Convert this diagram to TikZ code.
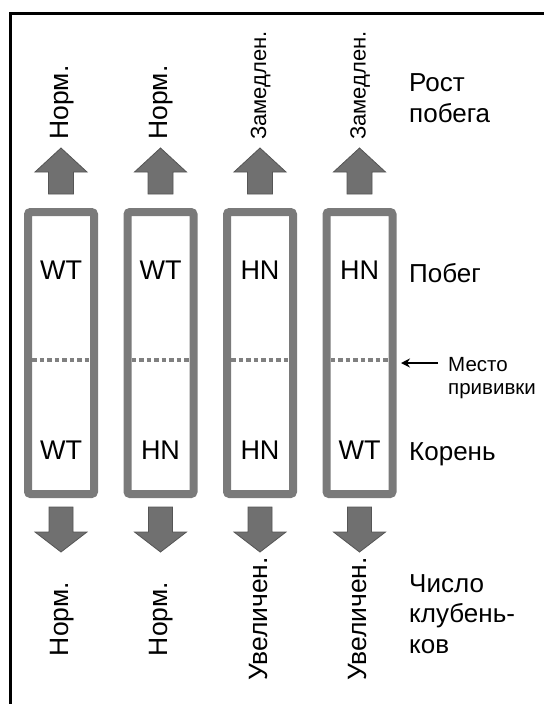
\documentclass[tikz,border=0pt]{standalone}
\usepackage{fontspec}
\setmainfont{Liberation Sans}
\usetikzlibrary{arrows.meta}
\definecolor{boxgray}{HTML}{7A7A7A}
\definecolor{dotgray}{HTML}{808080}
\definecolor{arrfill}{HTML}{707070}
\definecolor{arredge}{HTML}{555555}
\tikzset{
  plant/.style={draw=boxgray, line width=8pt, rounded corners=2.5pt, minimum width=66pt, minimum height=282pt, inner sep=0pt},
  gen/.style={font=\fontsize{27}{30}\selectfont, inner sep=0pt},
  side/.style={font=\fontsize{26}{30.5}\selectfont, inner sep=0pt, align=left},
  small/.style={font=\fontsize{20.5}{23}\selectfont, inner sep=0pt, align=left},
  vlab/.style={font=\fontsize{26.5}{30}\selectfont, inner sep=0pt, rotate=90},
  vlabs/.style={font=\fontsize{22}{26}\selectfont, inner sep=0pt, rotate=90},
  bigarrow/.style={fill=arrfill, draw=arredge, line width=0.8pt, line join=miter},
  graft/.style={dotgray, line width=4.5pt, dash pattern=on 4.5pt off 3pt}
}
\begin{document}
\begin{tikzpicture}[x=1pt,y=-1pt]
\useasboundingbox (0,0) rectangle (544,704);
% frame
\draw[line width=3pt] (10.5,704) -- (10.5,13) -- (544,13);
% columns
\foreach \c/\n/\top/\bot/\dn in {61/a/WT/WT/Норм., 160.5/b/WT/HN/Норм., 260/c/HN/HN/Увеличен., 359.5/d/HN/WT/Увеличен.}{
  \node[plant] (box\n) at (\c,353) {};
  \draw[graft] (\c-29,360) -- (\c+29,360);
  \node[gen] (top\n) at (\c,270) {\top};
  \node[gen] (bot\n) at (\c,450) {\bot};
  \draw[bigarrow] (\c-12.5,194) -- (\c-12.5,172) -- (\c-26,172) -- (\c,148) -- (\c+26,172) -- (\c+12.5,172) -- (\c+12.5,194) -- cycle;
  \draw[bigarrow] (\c-12,507) -- (\c+12,507) -- (\c+12,532) -- (\c+26,532) -- (\c,552) -- (\c-26,532) -- (\c-12,532) -- cycle;
  \node[vlab, anchor=base] (dl\n) at (\c+7,619) {\dn};
}
\node[vlab, anchor=base west] (ula) at (68,140) {Норм.};
\node[vlab, anchor=base west] (ulb) at (167.5,140) {Норм.};
\node[vlabs, anchor=base west] (ulc) at (266,140) {Замедлен.};
\node[vlabs, anchor=base west] (uld) at (365.5,140) {Замедлен.};
% side labels (base anchor = last line)
\node[side, anchor=base west] (rost) at (409,122) {Рост\\побега};
\node[side, anchor=base west] (pobeg) at (409,282) {Побег};
\node[small, anchor=base west] (mesto) at (448,394) {Место\\прививки};
\node[side, anchor=base west] (koren) at (409,460) {Корень};
\node[side, anchor=base west] (chislo) at (409,653) {Число\\клубень-\\ков};
\coordinate (graftpt) at (401,363);
\draw[line width=2pt, -{Stealth[length=9pt,width=9pt]}] (438,363) -- (graftpt);
\end{tikzpicture}
\end{document}
